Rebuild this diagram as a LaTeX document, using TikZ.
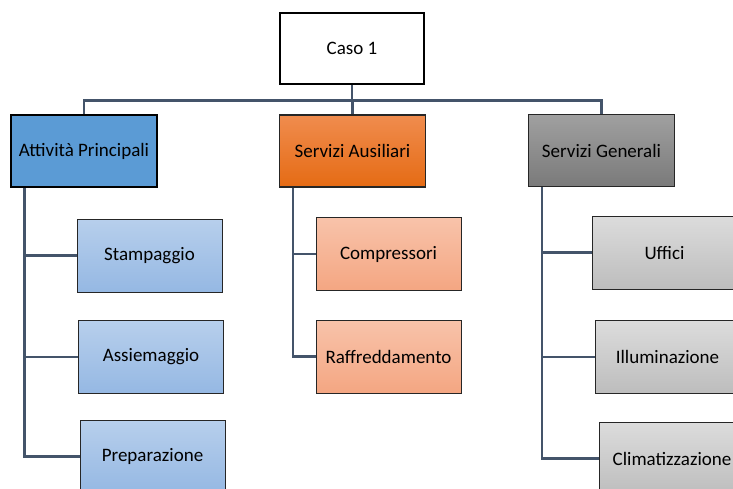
\documentclass[tikz,border=0pt]{standalone}
\usepackage{fontspec}
\setmainfont{Carlito}
\usetikzlibrary{calc,positioning,backgrounds}

\definecolor{linea}{HTML}{44546A}
\definecolor{blu}{HTML}{5B9BD5}
\definecolor{arancioA}{HTML}{F08C4E}
\definecolor{arancioB}{HTML}{E56B14}
\definecolor{grigioA}{HTML}{A0A0A0}
\definecolor{grigioB}{HTML}{7A7A7A}
\definecolor{bluchiaroA}{HTML}{B7CFEC}
\definecolor{bluchiaroB}{HTML}{95B8E3}
\definecolor{pescaA}{HTML}{F8C3AA}
\definecolor{pescaB}{HTML}{F4A682}
\definecolor{grigiochiaroA}{HTML}{DCDCDC}
\definecolor{grigiochiaroB}{HTML}{BDBDBD}

\tikzset{
	box/.style={rectangle, inner sep=0pt, font=\fontsize{19}{22}\selectfont},
	livello/.style={box, minimum width=146pt, minimum height=72pt, draw=black!85, line width=1.2pt},
	voce/.style={box, minimum width=145pt, minimum height=73pt, draw=black!85, line width=0.9pt},
	conn/.style={draw=linea, line width=2.6pt}
}

\begin{document}
\begin{tikzpicture}[x=1pt, y=-1pt]
					\clip (0, 0) rectangle (733, 488);
					\useasboundingbox (0, 0) rectangle (733, 488);

					\node[box, draw=black, line width=2.4pt, fill=white, minimum width=144pt, minimum height=71pt] at (352, 48.5) (caso) {Caso 1};

					\node[livello, draw=black, line width=2.8pt, fill=blu] at (84, 151) (attivita) {Attività Principali};
					\node[livello, top color=arancioA, bottom color=arancioB] at (352.5, 151) (ausiliari) {Servizi Ausiliari};
					\node[livello, top color=grigioA, bottom color=grigioB] at (601.5, 150.5) (generali) {Servizi Generali};

					\node[voce, top color=bluchiaroA, bottom color=bluchiaroB] at (149.5, 255.5) (stampaggio) {Stampaggio};
					\node[voce, top color=bluchiaroA, bottom color=bluchiaroB] at (151, 357) (assiemaggio) {Assiemaggio};
					\node[voce, top color=bluchiaroA, bottom color=bluchiaroB] at (152.5, 456.5) (preparazione) {Preparazione};

					\node[voce, top color=pescaA, bottom color=pescaB] at (388.5, 254) (compressori) {Compressori};
					\node[voce, top color=pescaA, bottom color=pescaB] at (388.5, 356.5) (raffreddamento) {Raffreddamento};

					\node[voce, top color=grigiochiaroA, bottom color=grigiochiaroB] at (664.5, 252.5) (uffici) {Uffici};
					\node[voce, top color=grigiochiaroA, bottom color=grigiochiaroB] at (667.5, 357) (illuminazione) {Illuminazione};
					\node[voce, top color=grigiochiaroA, bottom color=grigiochiaroB] at (672, 458.5) (climatizzazione) {Climatizzazione};

					\begin{scope}[on background layer]
					% collegamenti primo livello
					\coordinate (bus) at ($(caso.south) + (0, 15)$);
					\draw[conn] (caso.center) -- (bus);
					\draw[conn] (bus) -| (attivita.center);
					\draw[conn] (bus) -| (generali.center);
					\draw[conn] (bus) -| (ausiliari.center);

					% collegamenti secondo livello
					\coordinate (ramoA) at ($(attivita.south west) + (15, 0)$);
					\coordinate (ramoB) at ($(ausiliari.south west) + (14, 0)$);
					\coordinate (ramoC) at ($(generali.south west) + (14, 0)$);
					\draw[conn] (ramoA) |- (stampaggio.center);
					\draw[conn] (ramoA) |- (assiemaggio.center);
					\draw[conn] (ramoA) |- (preparazione.center);
					\draw[conn] (ramoB) |- (compressori.center);
					\draw[conn] (ramoB) |- (raffreddamento.center);
					\draw[conn] (ramoC) |- (uffici.center);
					\draw[conn] (ramoC) |- (illuminazione.center);
					\draw[conn] (ramoC) |- (climatizzazione.center);
					\end{scope}
				\end{tikzpicture}
\end{document}
